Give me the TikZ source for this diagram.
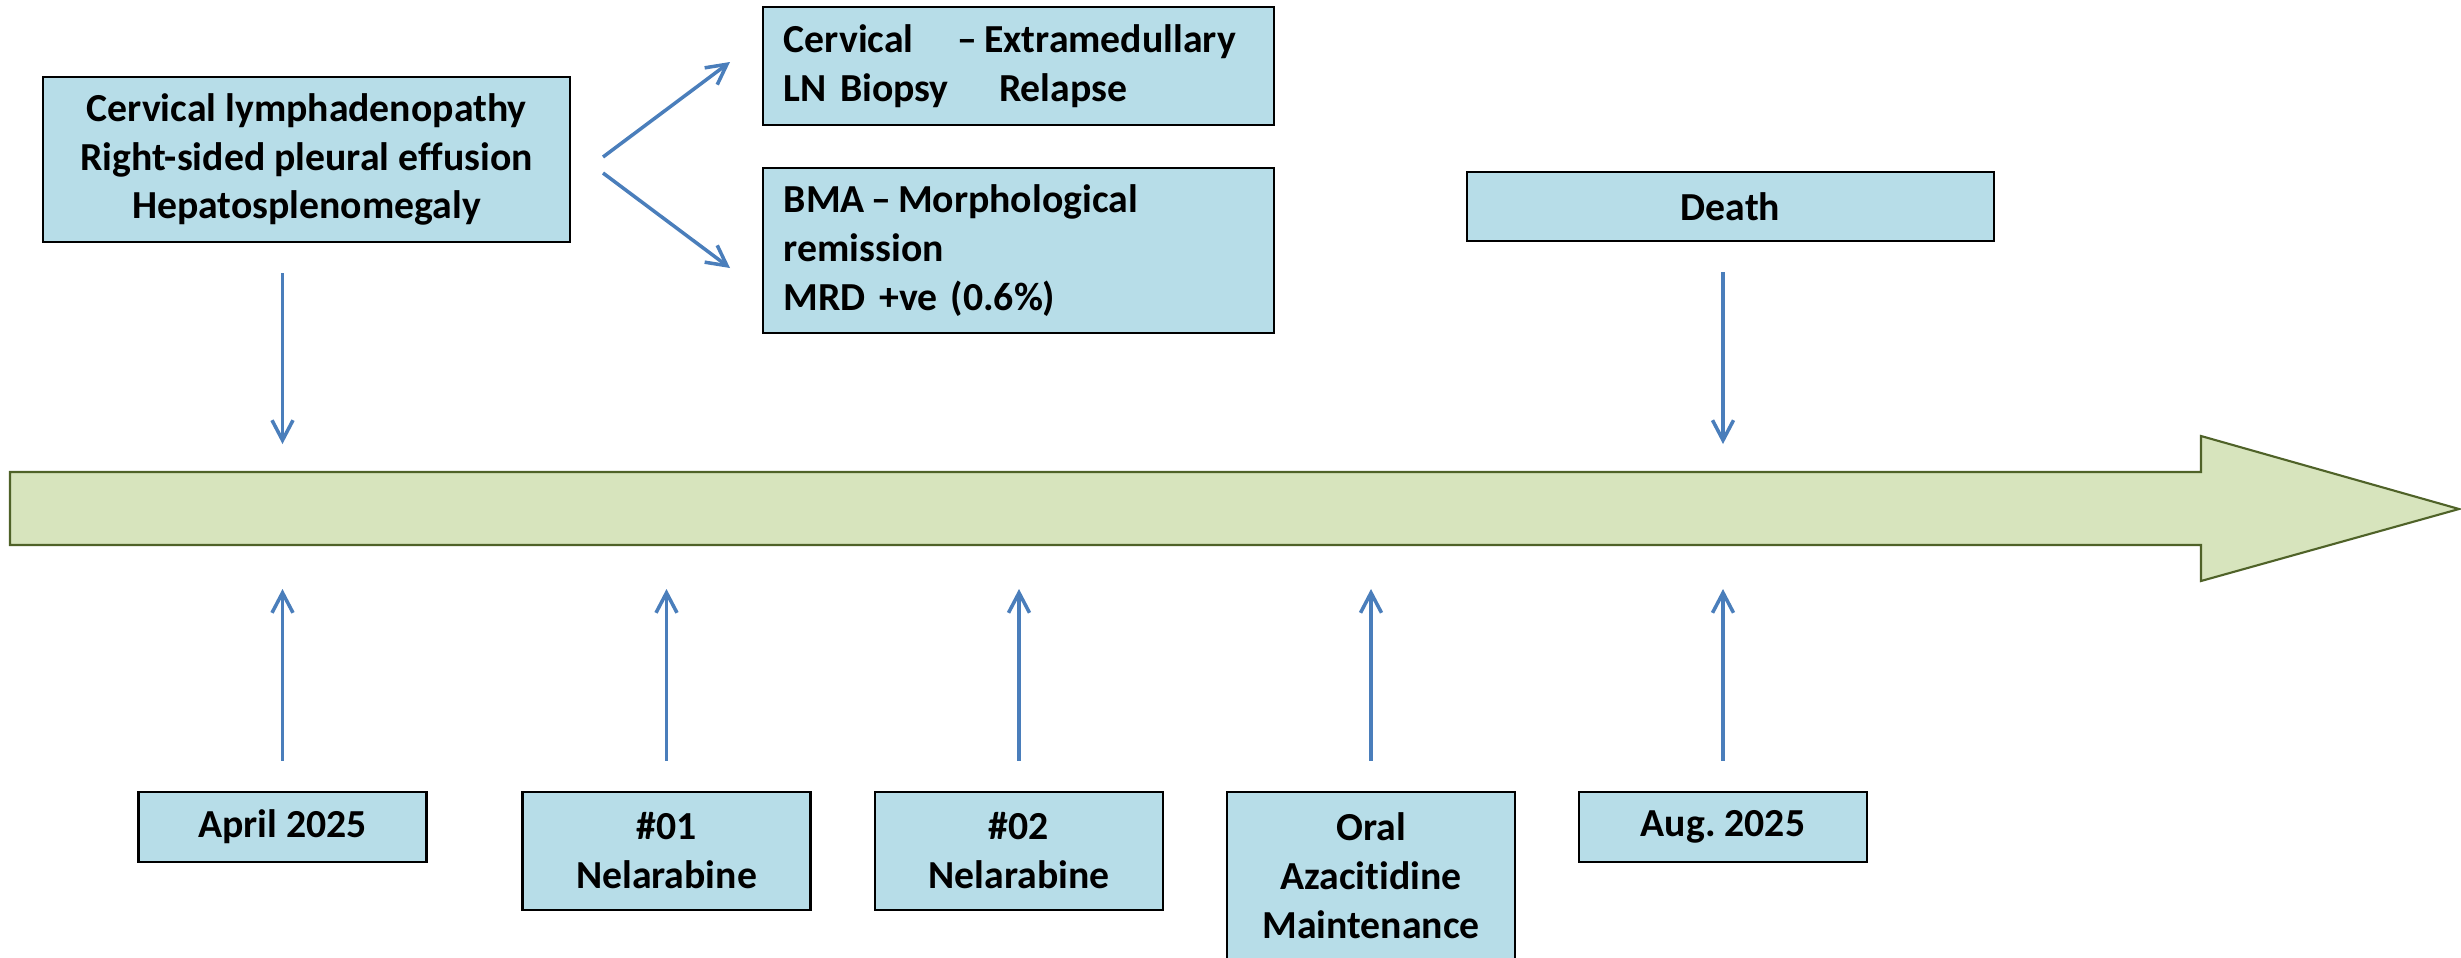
\documentclass[tikz,border=0pt]{standalone}
\usepackage{fontspec}
\setmainfont{Carlito}[Ligatures = {TeX, NoCommon}]
\usepackage{tikz}
\usetikzlibrary{arrows.meta}
\usetikzlibrary{positioning}
\frenchspacing
\definecolor{boxblue}{HTML}{B7DDE8}
\definecolor{arrowblue}{HTML}{4A7EBB}
\definecolor{olivefill}{HTML}{D7E4BD}
\definecolor{olivedraw}{HTML}{4F6228}
\tikzset{box/.style = {draw, fill = boxblue, line width = 0.7pt, align = center, inner sep = 0,
    font = \bfseries\fontsize{11.3}{13.9}\selectfont}}
\tikzset{leftbox/.style = {box, align = left, text width = 4.69cm, minimum width = 5.11cm}}
\tikzset{datebox/.style = {box, minimum width = 2.88cm}}
\tikzset{conn/.style = {draw = arrowblue, line width = 1pt, -{Straight Barb[length = 0.2cm, width = 0.21cm]}}}
\tikzset{timeline/.style = {fill = olivefill, draw = olivedraw, line width = 0.6pt}}

\begin{document}
\begin{tikzpicture}[x=0.01cm, y=-0.01cm]
          \useasboundingbox (0, 0) rectangle (2461, 957);

          % time axis
          \draw [timeline] (10, 472) -- (2201, 472) -- (2201, 436) -- (2459, 509)
            -- (2201, 581) -- (2201, 545) -- (10, 545) -- cycle;

          \node [box, minimum width = 5.27cm, minimum height = 1.65cm] (sympt) at (306.5, 159.5)
            {Cervical lymphadenopathy\\Right-sided pleural effusion\\Hepatosplenomegaly};
          \node [leftbox, minimum height = 1.18cm] (relapse) at (1018.5, 66)
            {\makebox[1.74cm][l]{Cervical}--\,Extramedullary\\\makebox[2.15cm][l]{LN Biopsy}Relapse};
          \node [leftbox, minimum height = 1.65cm] (bma) at (1018.5, 250.5)
            {BMA\,--\,Morphological\\remission\\MRD +ve (0.6\%)};
          \node [box, minimum width = 5.27cm, minimum height = 0.69cm] (death) at (1730.5, 206.5) {Death};

          \node [datebox, minimum height = 0.70cm] (april) at (282.5, 827) {April 2025};
          \node [datebox, minimum height = 1.18cm] (nel1) at (666.5, 851) {\#01\\Nelarabine};
          \node [datebox, minimum height = 1.18cm] (nel2) at (1019, 851) {\#02\\Nelarabine};
          \node [datebox, minimum height = 1.68cm] (oral) at (1371, 876) {Oral\\Azacitidine\\Maintenance};
          \node [datebox, minimum height = 0.70cm] (aug) at (1723, 827) {Aug. 2025};

          \coordinate (up) at (0, 589);
          \coordinate (down) at (0, 444);
          \coordinate (fork1) at (603, 157);
          \coordinate (fork2) at (603, 173);
          \coordinate (relapse tip) at (730, 62);
          \coordinate (bma tip) at (730, 268);

          \draw [conn] (fork1) -- (relapse tip);
          \draw [conn] (fork2) -- (bma tip);

          \draw [conn, shorten <= 0.3cm] (sympt.south -| april) -- (april |- down);
          \draw [conn, shorten <= 0.3cm] (death.south -| aug) -- (aug |- down);

          \draw [conn, shorten <= 0.3cm] (april) -- (april |- up);
          \draw [conn, shorten <= 0.3cm] (nel1) -- (nel1 |- up);
          \draw [conn, shorten <= 0.3cm] (nel2) -- (nel2 |- up);
          \draw [conn, shorten <= 0.3cm] (oral) -- (oral |- up);
          \draw [conn, shorten <= 0.3cm] (aug) -- (aug |- up);
        \end{tikzpicture}
\end{document}
